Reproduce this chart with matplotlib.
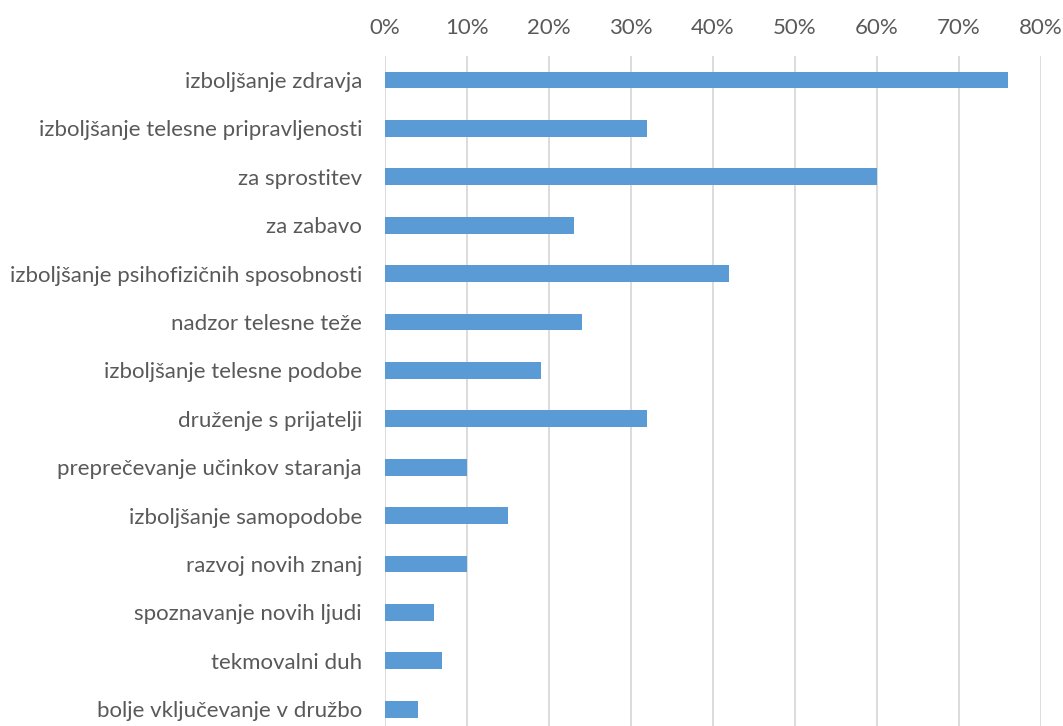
import matplotlib
matplotlib.use('Agg')
import matplotlib.pyplot as plt
from matplotlib.ticker import PercentFormatter

labels = ['izboljšanje zdravja', 'izboljšanje telesne pripravljenosti', 'za sprostitev',
          'za zabavo', 'izboljšanje psihofizičnih sposobnosti', 'nadzor telesne teže',
          'izboljšanje telesne podobe', 'druženje s prijatelji', 'preprečevanje učinkov staranja',
          'izboljšanje samopodobe', 'razvoj novih znanj', 'spoznavanje novih ljudi',
          'tekmovalni duh', 'bolje vključevanje v družbo']
values = [76, 32, 60, 23, 42, 24, 19, 32, 10, 15, 10, 6, 7, 4]
xticks = [0, 10, 20, 30, 40, 50, 60, 70, 80]

plt.rcParams['font.family'] = ['Lato', 'DejaVu Sans']

fig = plt.figure(figsize=(10.63, 7.26), dpi=100)
ax = fig.add_axes([0.3622, -0.0102, 0.9793 - 0.3622, 0.9231 + 0.0102])

pos = list(range(len(labels)))
ax.barh(pos, values, height=0.35, color='#5B9BD5', zorder=3)
ax.set_ylim(len(labels) - 0.5, -0.5)
ax.set_xlim(0, 80)
ax.set_xticks(xticks)
ax.xaxis.set_major_formatter(PercentFormatter(decimals=0))
ax.xaxis.tick_top()
ax.set_yticks(pos)
ax.set_yticklabels(labels)
ax.tick_params(axis='both', length=0, labelsize=16, labelcolor='#595959')
ax.tick_params(axis='x', pad=13)
ax.tick_params(axis='y', pad=16.5)
ax.grid(axis='x', color='#D9D9D9', linewidth=1.3, zorder=0)
for s in ax.spines.values():
    s.set_visible(False)

fig.savefig('out.png', dpi=100)
